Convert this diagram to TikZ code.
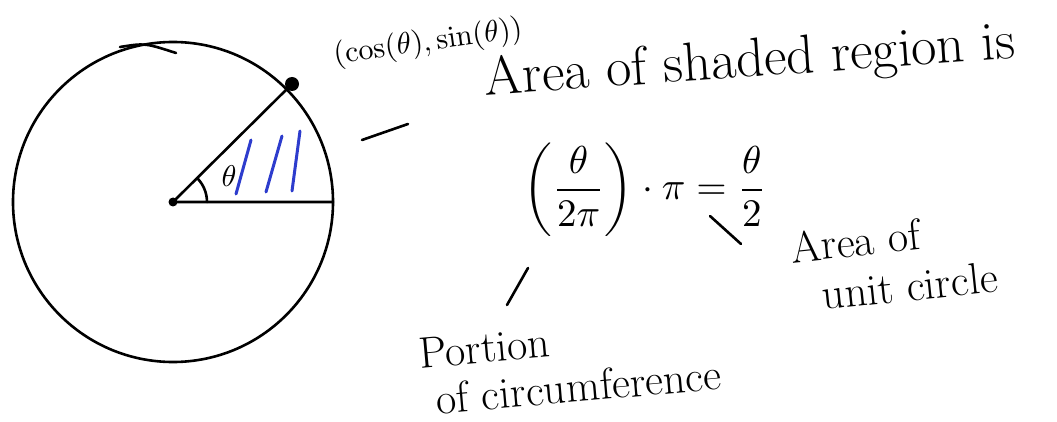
\documentclass[tikz,border=0pt]{standalone}
\usepackage{amsmath}
\definecolor{penblue}{RGB}{45,60,205}
\begin{document}
\begin{tikzpicture}[x=1pt,y=-1pt,line width=2.6pt,line cap=round,line join=round,
  ink/.style={draw=black},
  hatch/.style={draw=penblue,line width=3pt},
  label/.style={inner sep=0pt,text=black}]
\useasboundingbox (0,0) rectangle (1057,422);
% circle and sector
\coordinate (O) at (173,202);
\coordinate (R) at (333,202);
\coordinate (P) at (292,84);
\draw[ink] (O) circle (160pt);
\draw[ink] (P) -- (O) -- (R);
\fill (O) circle (4.5pt);
\fill (P) circle (7pt);
\draw[ink] ([shift={(34pt,0pt)}]O) arc[start angle=0,end angle=44,radius=34pt];
% stray stroke above circle
\coordinate (s1) at (120,47);
\coordinate (s2) at (176,53);
\draw[ink] (s1) .. controls (145,43) .. (s2);
% theta and hatching
\node[label,scale=3] (th) at (229,176) {$\theta$};
\coordinate (h1a) at (236,194); \coordinate (h1b) at (251,140);
\coordinate (h2a) at (266,192); \coordinate (h2b) at (282,136);
\coordinate (h3a) at (292,191); \coordinate (h3b) at (300,131);
\draw[hatch] (h1a) -- (h1b);
\draw[hatch] (h2a) -- (h2b);
\draw[hatch] (h3a) -- (h3b);
% texts
\node[label,rotate=8,scale=3.0] (pt) at (428,43) {$(\cos(\theta),\sin(\theta))$};
\node[label,rotate=4,font=\fontsize{55}{58}\selectfont] (area) at (750,63) {Area of shaded region is};
\node[label,scale=3.9] (eq) at (645,190) {$\left(\dfrac{\theta}{2\pi}\right)\cdot\pi=\dfrac{\theta}{2}$};
\node[label,rotate=6,align=left,font=\fontsize{44}{50}\selectfont] (unit) at (894,262) {Area of\\\hspace{0.6em}unit circle};
\node[label,rotate=5,align=left,font=\fontsize{44}{47}\selectfont] (port) at (570,364) {Portion\\\hspace{0.3em}of circumference};
% dashes
\coordinate (d1a) at (362,140); \coordinate (d1b) at (408,124);
\coordinate (d2a) at (710,216); \coordinate (d2b) at (741,244);
\coordinate (d3a) at (528,268); \coordinate (d3b) at (507,305);
\draw[ink] (d1a) -- (d1b);
\draw[ink] (d2a) -- (d2b);
\draw[ink] (d3a) -- (d3b);
\end{tikzpicture}
\end{document}
